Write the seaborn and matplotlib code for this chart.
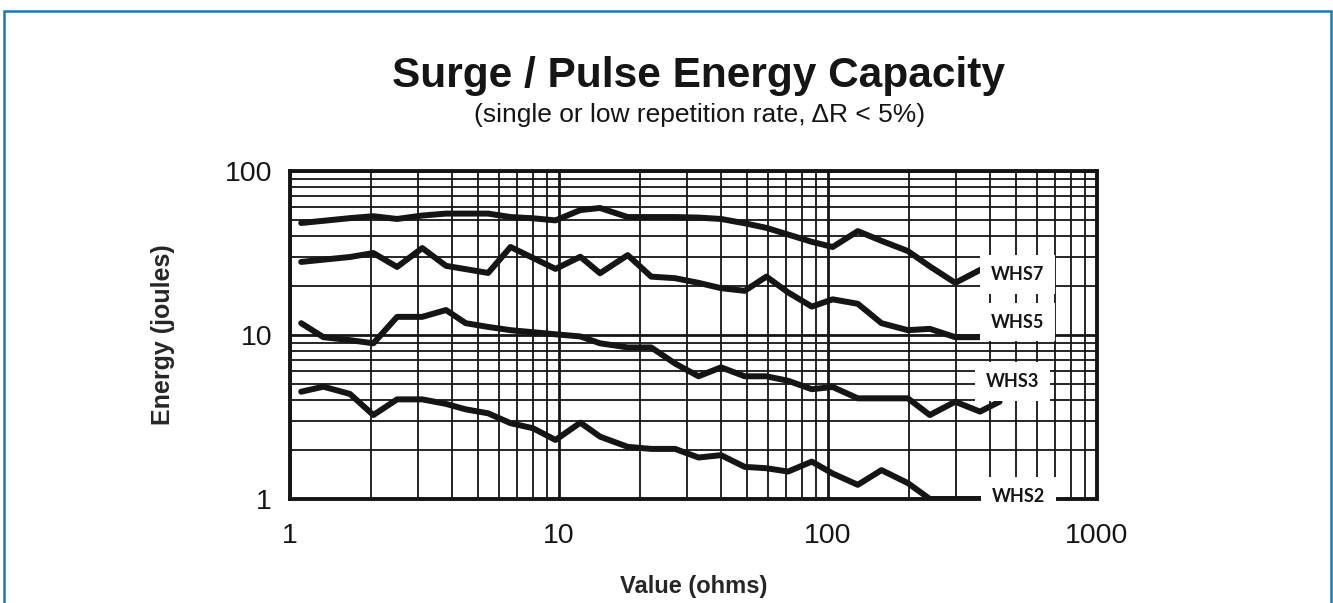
import matplotlib
matplotlib.use("Agg")
import matplotlib.pyplot as plt
import pandas as pd
import seaborn as sns
from matplotlib.patches import Rectangle
from matplotlib.ticker import FixedLocator, LogLocator, NullFormatter

# resistance values (ohms)
ohms = [1.1, 1.33, 1.67, 2.04, 2.5, 3.1, 3.8, 4.5, 5.45, 6.6, 8.0, 9.7,
        12, 14.2, 18, 22, 27, 33, 40, 49, 59, 71, 87, 104, 129, 158,
        198, 239, 297, 367, 434]

# energy (joules) per series
whs7 = [48.2, 49.7, 51.6, 53.0, 51.0, 53.5, 55.0, 55.0, 55.0, 52.4, 51.5, 50.0,
        57.8, 59.5, 52.4, 52.4, 52.4, 52.0, 51.0, 48.0, 45.0, 41.0, 37.0, 34.4,
        43.0, 37.5, 32.5, 26.2, 20.8, 24.9, 28.0]
whs5 = [27.9, 28.8, 29.9, 31.6, 26.0, 33.9, 26.4, 25.2, 23.9, 34.4, 29.5, 25.3,
        30.0, 23.8, 30.7, 22.7, 22.2, 20.8, 19.3, 18.6, 22.7, 18.2, 14.9, 16.5,
        15.5, 11.8, 10.7, 10.9, 9.7, 9.7, 9.7]
whs3 = [11.8, 9.7, 9.3, 8.9, 12.9, 12.9, 14.2, 11.8, 11.2, 10.7, 10.4, 10.1,
        9.8, 8.9, 8.4, 8.4, 6.7, 5.6, 6.35, 5.6, 5.6, 5.26, 4.67, 4.82,
        4.11, 4.11, 4.11, 3.25, 3.92, 3.41, 3.92]
whs2 = [4.51, 4.84, 4.37, 3.25, 4.05, 4.05, 3.80, 3.52, 3.33, 2.90, 2.70, 2.29,
        2.92, 2.40, 2.08, 2.02, 2.02, 1.79, 1.85, 1.57, 1.54, 1.47, 1.69, 1.43,
        1.22, 1.50, 1.25, 1.0, 1.0, 1.0, 1.0]

models = ["WHS7", "WHS5", "WHS3", "WHS2"]
x_ticks = [1, 10, 100, 1000]
y_ticks = [1, 10, 100]

# where the series name boxes sit (data coords)
label_x = [505, 505, 485, 510]
label_y = [23.3, 12.0, 5.2, 1.04]

df = pd.concat([
    pd.DataFrame({"ohms": ohms, "joules": vals, "model": name})
    for name, vals in zip(models, [whs7, whs5, whs3, whs2])
])

sns.set_style("white")
plt.rcParams["font.family"] = ["Liberation Sans", "DejaVu Sans"]

INK = "#151515"

fig = plt.figure(figsize=(13.33, 6.03), dpi=100)
ax = fig.add_axes([0.2176, 0.1725, 0.6054, 0.5439])

sns.lineplot(data=df, x="ohms", y="joules", hue="model", palette=[INK] * 4,
             linewidth=4.3, legend=False, sort=False, ax=ax, zorder=3)

ax.set_xscale("log")
ax.set_yscale("log")
ax.set_xlim(1, 1000)
ax.set_ylim(1, 100)

ax.xaxis.set_major_locator(FixedLocator(x_ticks))
ax.yaxis.set_major_locator(FixedLocator(y_ticks))
ax.set_xticklabels([str(t) for t in x_ticks])
ax.set_yticklabels([str(t) for t in y_ticks])
ax.xaxis.set_minor_locator(LogLocator(base=10, subs=range(2, 10)))
ax.yaxis.set_minor_locator(LogLocator(base=10, subs=range(2, 10)))
ax.xaxis.set_minor_formatter(NullFormatter())
ax.yaxis.set_minor_formatter(NullFormatter())

ax.grid(which="major", color=INK, linewidth=2.0)
ax.grid(which="minor", color=INK, linewidth=1.3)
ax.set_axisbelow(True)

for sp in ax.spines.values():
    sp.set_color(INK)
    sp.set_linewidth(2.8)

ax.tick_params(which="major", direction="out", length=6, width=2.5,
               color=INK, labelsize=20.5, labelcolor=INK)
ax.tick_params(axis="x", which="major", pad=11)
ax.tick_params(axis="y", which="major", pad=7)
ax.tick_params(which="minor", length=0)

ax.set_xlabel("Value (ohms)", fontsize=17, fontweight="bold", labelpad=19)
ax.set_ylabel("Energy (joules)", fontsize=18, fontweight="bold", labelpad=36)

for name, lx, ly in zip(models, label_x, label_y):
    ax.text(lx, ly, name, ha="center", va="center", fontsize=13,
            fontweight="bold", family=["Lato", "DejaVu Sans"], color=INK,
            bbox=dict(boxstyle="square,pad=0.6", fc="white", ec="none"),
            zorder=6, clip_on=False)

fig.text(0.524, 0.855, "Surge / Pulse Energy Capacity", ha="center",
         va="baseline", fontsize=30.5, fontweight="bold", color=INK)
fig.text(0.525, 0.797, "(single or low repetition rate, \u0394R < 5%)",
         ha="center", va="baseline", fontsize=19, color=INK)

# blue frame round the figure
fig.patches.append(Rectangle((0.003, -0.1), 0.9955, 1.0818,
                             transform=fig.transFigure, fill=False,
                             ec="#0F7BC0", lw=1.8))

fig.savefig("out.png", dpi=100)
